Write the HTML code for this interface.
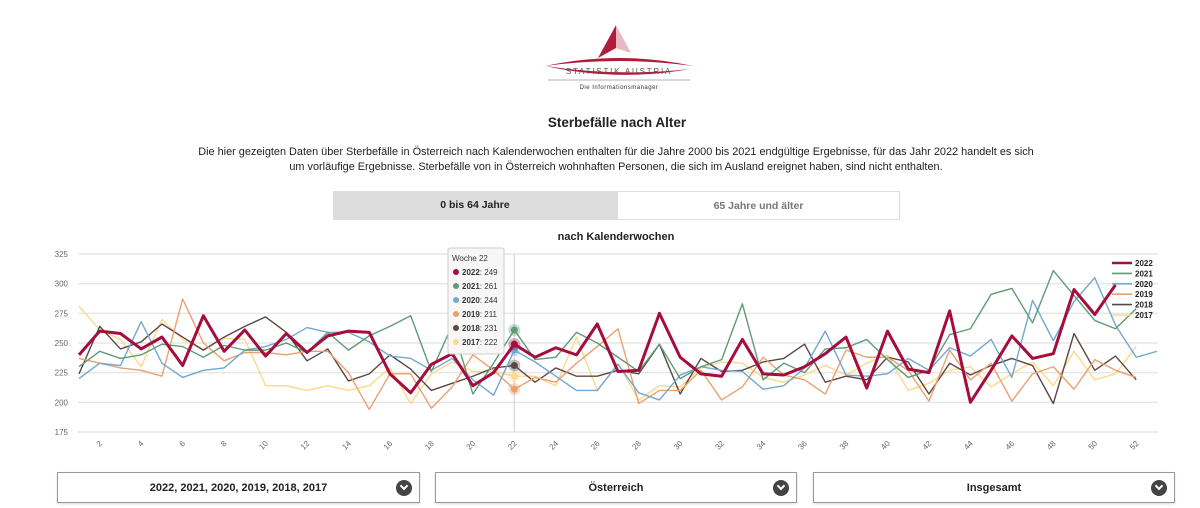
<!DOCTYPE html>
<html><head><meta charset="utf-8">
<style>
body{margin:0;width:1200px;height:508px;background:#fff;font-family:"Liberation Sans",sans-serif;color:#222;position:relative;overflow:hidden}
.abs{position:absolute}
#title{left:0;width:1234px;top:115px;text-align:center;font-weight:bold;font-size:13.5px}
#desc{left:190px;width:852px;top:145px;text-align:center;font-size:10.9px;line-height:15px;color:#222}
.tab{top:191px;height:29px;line-height:29px;text-align:center;font-size:10.5px;font-weight:bold;box-sizing:border-box}
.dd{top:472px;height:31px;border:1px solid #999;box-sizing:border-box;text-align:center;line-height:30px;font-size:11px;font-weight:bold;box-shadow:0 1px 2px rgba(0,0,0,.15)}
.chev{position:absolute;right:7px;top:7px;width:16px;height:16px;border-radius:50%;background:#444}
.chev:after{content:"";position:absolute;left:5px;top:3px;width:4px;height:4px;border-right:2px solid #fff;border-bottom:2px solid #fff;transform:rotate(45deg)}
</style></head><body>
<svg class="abs" style="left:540px;top:20px" width="160" height="80">
<polygon points="76,5 58,38 76,28" fill="#b01c3a"/><polygon points="76,5 76,28 91,33" fill="#e7b9c2"/>
<path d="M5,46 Q79,30 153,46 Q79,36 5,46Z" fill="#b01c3a"/>
<path d="M5,46 Q79,62 150,49 Q79,57 5,46Z" fill="#b01c3a"/>
<text x="79" y="54" text-anchor="middle" font-size="8" letter-spacing="1.8" fill="#555">STATISTIK AUSTRIA</text>
<line x1="8" y1="60" x2="150" y2="60" stroke="#999" stroke-width="0.8"/>
<text x="79" y="69" text-anchor="middle" font-size="6" letter-spacing="0.5" fill="#333">Die Informationsmanager</text>
</svg>
<div id="title" class="abs">Sterbefälle nach Alter</div>
<div id="desc" class="abs">Die hier gezeigten Daten über Sterbefälle in Österreich nach Kalenderwochen enthalten für die Jahre 2000 bis 2021 endgültige Ergebnisse, für das Jahr 2022 handelt es sich<br>um vorläufige Ergebnisse. Sterbefälle von in Österreich wohnhaften Personen, die sich im Ausland ereignet haben, sind nicht enthalten.</div>
<div class="abs tab" style="left:333px;width:284px;background:#ddd">0 bis 64 Jahre</div>
<div class="abs tab" style="left:617px;width:283px;border:1px solid #ddd;color:#777">65 Jahre und älter</div>
<div class="abs" style="left:0;width:1232px;top:231px;text-align:center;font-size:11px;font-weight:bold">nach Kalenderwochen</div>
<svg id="chart" class="abs" style="left:0;top:240px" width="1200" height="225"></svg>
<div class="abs dd" style="left:57px;width:363px">2022, 2021, 2020, 2019, 2018, 2017<span class="chev"></span></div>
<div class="abs dd" style="left:435px;width:362px">Österreich<span class="chev"></span></div>
<div class="abs dd" style="left:813px;width:362px">Insgesamt<span class="chev"></span></div>
<script>
const years=["2022","2021","2020","2019","2018","2017"];
const colors=["#a50d3d","#5f9b76","#72a8d2","#eba06e","#5b4843","#fcd98c"];
const yTicks=[175,200,225,250,275,300,325];
const d2022=[240,260,258,245,255,231,273,243,261,239,258,242,256,260,259,224,208,232,241,214,225,249,238,246,240,266,226,227,275,238,224,222,253,224,223,230,241,255,212,260,228,225,277,200,227,256,237,241,295,274,299];
const d2021=[230,243,237,240,249,247,238,248,244,244,250,242,259,244,256,264,273,226,265,207,233,261,236,238,259,250,238,226,249,220,230,236,283,219,233,225,245,246,253,236,221,227,257,262,291,296,267,311,290,269,262,279];
const d2020=[220,233,231,268,233,221,227,229,244,247,253,263,259,259,251,239,237,227,237,219,206,244,234,222,210,210,232,208,202,223,230,227,226,211,214,229,260,223,222,224,237,227,246,239,253,221,286,252,285,305,265,238,243];
const d2019=[237,233,229,227,222,287,250,235,242,242,240,243,243,225,194,224,224,195,213,240,227,211,221,217,233,247,262,199,210,210,227,202,213,238,223,219,207,244,238,238,227,201,244,219,233,201,224,230,211,236,227,221];
const d2018=[224,264,245,251,266,255,244,255,264,272,259,235,245,218,224,240,228,210,216,222,229,231,217,229,222,222,227,224,249,207,237,226,227,234,237,249,217,222,219,238,234,207,233,223,231,237,231,199,258,227,239,219];
const d2017=[281,261,253,230,270,253,244,254,253,214,214,210,214,210,214,229,199,224,234,226,226,222,222,214,255,210,233,202,214,213,229,234,233,221,217,223,231,223,233,240,210,216,227,230,213,224,234,214,243,219,224,247];
const series=[d2022,d2021,d2020,d2019,d2018,d2017];
const svg=document.getElementById('chart');const NS="http://www.w3.org/2000/svg";
const X0=79,DX=20.73,Y0=192,PX=178/150;
const xs=w=>X0+(w-1)*DX, ys=v=>Y0-(v-175)*PX;
function mk(t,a,p){const e=document.createElementNS(NS,t);for(const k in a)e.setAttribute(k,a[k]);(p||svg).appendChild(e);return e;}
yTicks.forEach(v=>{
 const l=mk('line',{x1:78,x2:1158,y1:ys(v),y2:ys(v),stroke:'#e6e6e6','stroke-width':1.5});
 
 
 const t=mk('text',{x:68,y:ys(v)+3,'text-anchor':'end','font-size':8,fill:'#666'});t.textContent=v;
 
 
});
for(let w=2;w<=52;w+=2){const t=mk('text',{x:xs(w)+3,y:Y0+12,'text-anchor':'end','font-size':8,fill:'#666',transform:`rotate(-45 ${xs(w)+3} ${Y0+12})`});t.textContent=w;
 
 }
const ch=mk('line',{x1:xs(22),x2:xs(22),y1:14,y2:Y0,stroke:'#ddd','stroke-width':1.5});


for(let i=series.length-1;i>=0;i--){
 const p=mk('polyline',{points:series[i].map((v,j)=>xs(j+1)+','+ys(v)).join(' '),fill:'none',stroke:colors[i],'stroke-width':i==0?3:1.4,'stroke-linejoin':'round'});
 
 
 const v=series[i][21];
 mk('circle',{cx:xs(22),cy:ys(v),r:6,fill:colors[i],opacity:0.35});
 const c=mk('circle',{cx:xs(22),cy:ys(v),r:3.5,fill:colors[i]});
 
 
}
const g=mk('g',{});


mk('rect',{x:448,y:8,width:56,height:106,fill:'#f7f7f7',stroke:'#ccc',rx:2},g);
const tt=mk('text',{x:452,y:21,'font-size':8,fill:'#333'},g);tt.textContent='Woche 22';
years.forEach((y,i)=>{mk('circle',{cx:456,cy:32+i*14,r:3,fill:colors[i]},g);
 const t=mk('text',{x:462,y:35+i*14,'font-size':8,fill:'#333'},g);t.innerHTML='<tspan font-weight="bold">'+y+'</tspan>: '+series[i][21];});
years.forEach((y,i)=>{const yy=23+i*10.4;
 const l=mk('line',{x1:1112,x2:1132,y1:yy,y2:yy,stroke:colors[i],'stroke-width':i==0?2.5:1.6});
 
 
 const t=mk('text',{x:1135,y:yy+3,'font-size':8,'font-weight':'bold',fill:'#222'});t.textContent=y;
 
 });
</script>
</body></html>
